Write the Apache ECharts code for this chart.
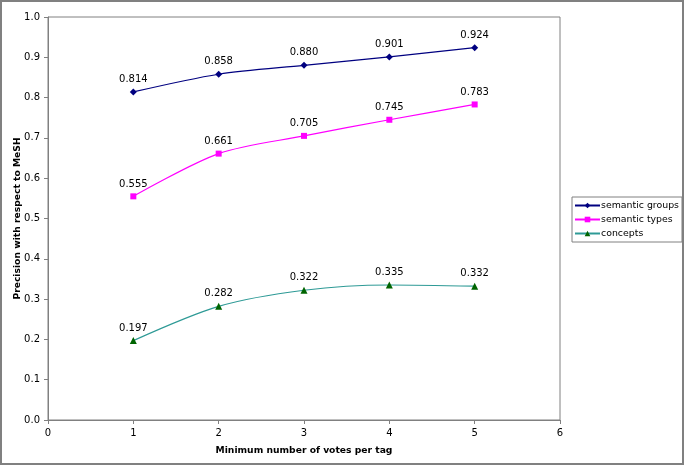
<!DOCTYPE html>
<html><head><meta charset="utf-8">
<script src="https://cdn.jsdelivr.net/npm/echarts@6/dist/echarts.min.js"></script>
<style>html,body{margin:0;padding:0;background:#fff}#c{width:685px;height:466px}</style>
</head><body><div id="c"></div>
<script>
const votes = [1, 2, 3, 4, 5];
const semanticGroups = [0.814, 0.858, 0.880, 0.901, 0.924];
const semanticTypes = [0.555, 0.661, 0.705, 0.745, 0.783];
const concepts = [0.197, 0.282, 0.322, 0.335, 0.332];
const seriesNames = ['semantic groups', 'semantic types', 'concepts'];
const xTitle = 'Minimum number of votes per tag';
const yTitle = 'Precision with respect to MeSH';

const FONT = 'DejaVu Sans';
function pairs(vals){ return votes.map((v,i)=>[v, vals[i]]); }
function mkSeries(name, vals, lineColor, markColor, symbol, size){
  return {
    name, type:'line', data: pairs(vals), smooth: 0.3,
    symbol, symbolSize: size,
    lineStyle:{color: lineColor, width:1.2},
    itemStyle:{color: markColor},
    label:{show:true, position:'top', distance:4, color:'#000', fontFamily:FONT, fontSize:10,
      formatter: p => p.value[1].toFixed(3)},
    emphasis:{disabled:true}
  };
}
const chart = echarts.init(document.getElementById('c'), null, {renderer:'canvas'});
chart.setOption({
  animation:false,
  backgroundColor:'#fff',
  grid:{left:48, top:17, right:125, bottom:46, show:true, borderColor:'#808080', borderWidth:1,
    containLabel:false, outerBoundsMode:'none'},
  xAxis:{type:'value', min:0, max:6, interval:1,
    name:xTitle, nameLocation:'middle', nameGap:26, nameMoveOverlap:false,
    nameTextStyle:{fontFamily:FONT, fontSize:9.2, fontWeight:'bold', color:'#000'},
    axisLine:{lineStyle:{color:'#808080'}}, axisTick:{show:true, length:4, lineStyle:{color:'#808080'}},
    splitLine:{show:false},
    axisLabel:{fontFamily:FONT, fontSize:10, color:'#000', margin:8}},
  yAxis:{type:'value', min:0, max:1, interval:0.1,
    name:yTitle, nameLocation:'middle', nameGap:26, nameRotate:90, nameMoveOverlap:false,
    nameTextStyle:{fontFamily:FONT, fontSize:9.2, fontWeight:'bold', color:'#000'},
    axisLine:{show:true, lineStyle:{color:'#808080'}}, axisTick:{show:true, length:4, lineStyle:{color:'#808080'}},
    splitLine:{show:false},
    axisLabel:{fontFamily:FONT, fontSize:10, color:'#000', margin:8, formatter: v => v.toFixed(1)}},
  legend:{orient:'vertical', left:572, top:197,
    data:seriesNames,
    itemWidth:25, itemHeight:7, itemGap:5, padding:[4,3,4,2],
    borderColor:'#808080', borderWidth:1,
    textStyle:{fontFamily:FONT, fontSize:9.4, color:'#000', padding:[0,0,0,-4]}},
  graphic:[{type:'rect', shape:{x:1, y:1, width:682, height:463}, style:{fill:null, stroke:'#808080', lineWidth:2}, silent:true}],
  series:[
    mkSeries(seriesNames[0], semanticGroups, '#000080', '#000080', 'diamond', 7),
    mkSeries(seriesNames[1], semanticTypes, '#FF00FF', '#FF00FF', 'rect', 6),
    mkSeries(seriesNames[2], concepts, '#2E9A96', '#006400', 'triangle', 7)
  ]
});
</script></body></html>
